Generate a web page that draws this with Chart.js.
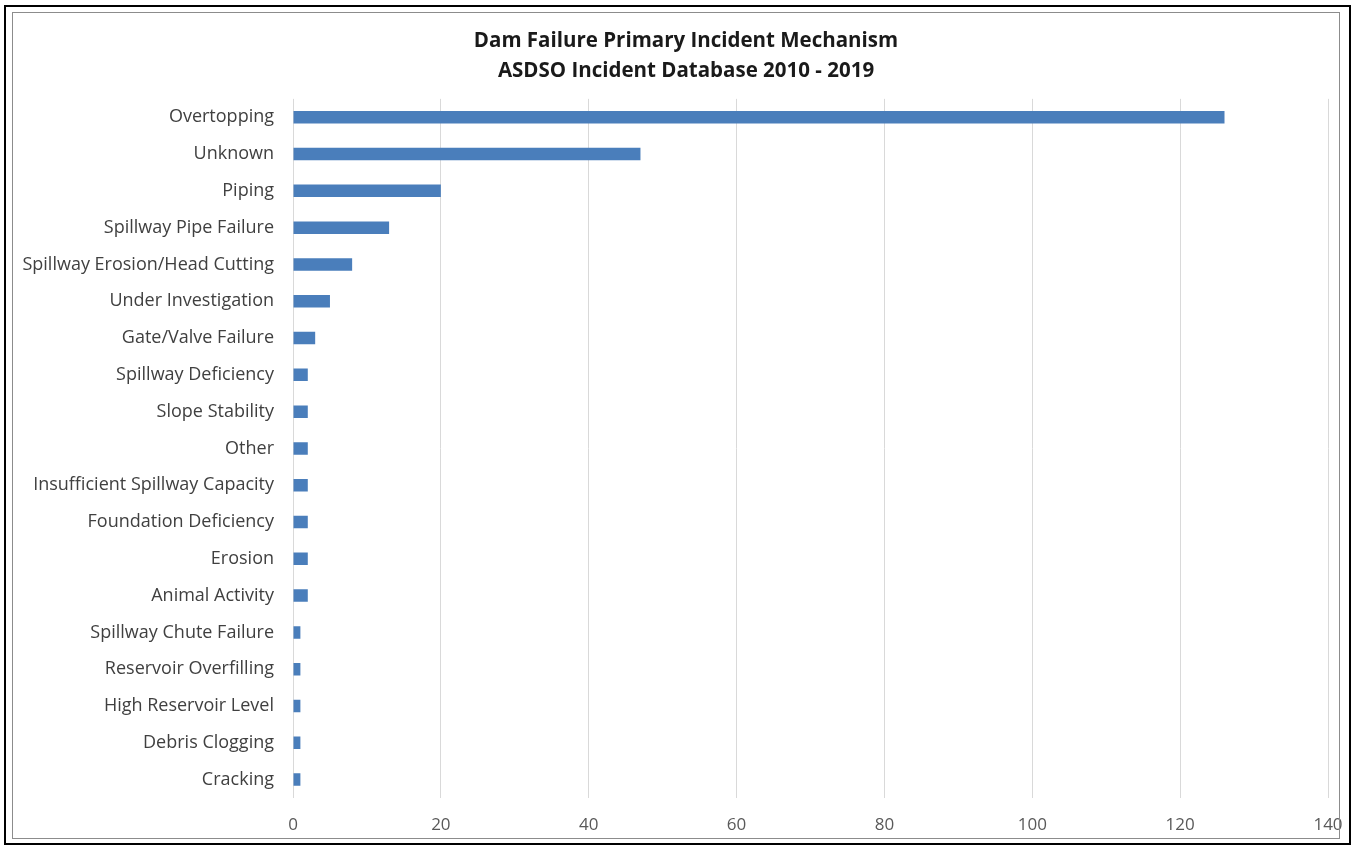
<!DOCTYPE html>
<html>
<head>
<meta charset="utf-8">
<script src="https://cdn.jsdelivr.net/npm/chart.js@4"></script>
<style>
  body { margin: 0; background: #fff; overflow: hidden; }
  .outer { position: absolute; left: 4px; top: 5px; width: 1343px; height: 836px; border: 2px solid #000; }
  .inner { position: absolute; left: 12px; top: 12px; width: 1326px; height: 825px; border: 1px solid #8c8c8c; }
  .chartBox { position: absolute; left: 14px; top: 14px; width: 1344px; height: 824px; }
</style>
</head>
<body>
<div class="chartBox"><canvas id="damChart"></canvas></div>
<div class="outer"></div>
<div class="inner"></div>
<script>
// incident mechanisms, top to bottom
const mechanisms = [
  'Overtopping', 'Unknown', 'Piping', 'Spillway Pipe Failure',
  'Spillway Erosion/Head Cutting', 'Under Investigation', 'Gate/Valve Failure',
  'Spillway Deficiency', 'Slope Stability', 'Other', 'Insufficient Spillway Capacity',
  'Foundation Deficiency', 'Erosion', 'Animal Activity', 'Spillway Chute Failure',
  'Reservoir Overfilling', 'High Reservoir Level', 'Debris Clogging', 'Cracking'
];
const failureCounts = [126, 47, 20, 13, 8, 5, 3, 2, 2, 2, 2, 2, 2, 2, 1, 1, 1, 1, 1];
const titleLines = ['Dam Failure Primary Incident Mechanism', 'ASDSO Incident Database 2010 - 2019'];

const labelFont = '"Open Sans", Lato, sans-serif';

const ctx = document.getElementById('damChart').getContext('2d');
new Chart(ctx, {
  type: 'bar',
  data: {
    labels: mechanisms,
    datasets: [{
      data: failureCounts,
      backgroundColor: '#4a7ebb',
      categoryPercentage: 1,
      barPercentage: 0.34,
    }],
  },
  options: {
    indexAxis: 'y',
    responsive: true,
    maintainAspectRatio: false,
    animation: false,
    layout: { padding: { left: 0, right: 0, top: 0, bottom: 4 } },
    plugins: {
      legend: { display: false },
      tooltip: { enabled: false },
      title: {
        display: true,
        text: titleLines,
        color: '#1a1a1a',
        font: { family: labelFont, size: 20.5, weight: 'bold', lineHeight: 1.46 },
        padding: { top: 12, bottom: 13 },
      },
    },
    scales: {
      x: {
        min: 0,
        max: 140,
        ticks: { stepSize: 20, color: '#595959', padding: 17, font: { family: labelFont, size: 17 } },
        grid: { color: '#d9d9d9', drawTicks: false },
        border: { display: false },
        afterFit: (scale) => {
          scale.height = 36;
          scale.paddingLeft = 0;
          scale.paddingRight = 30;
        },
      },
      y: {
        ticks: { color: '#404040', padding: 19, font: { family: labelFont, size: 18 } },
        grid: { display: false, drawTicks: false },
        border: { display: false },
        afterFit: (scale) => { scale.width = 279; },
      },
    },
  },
});
</script>
</body>
</html>
